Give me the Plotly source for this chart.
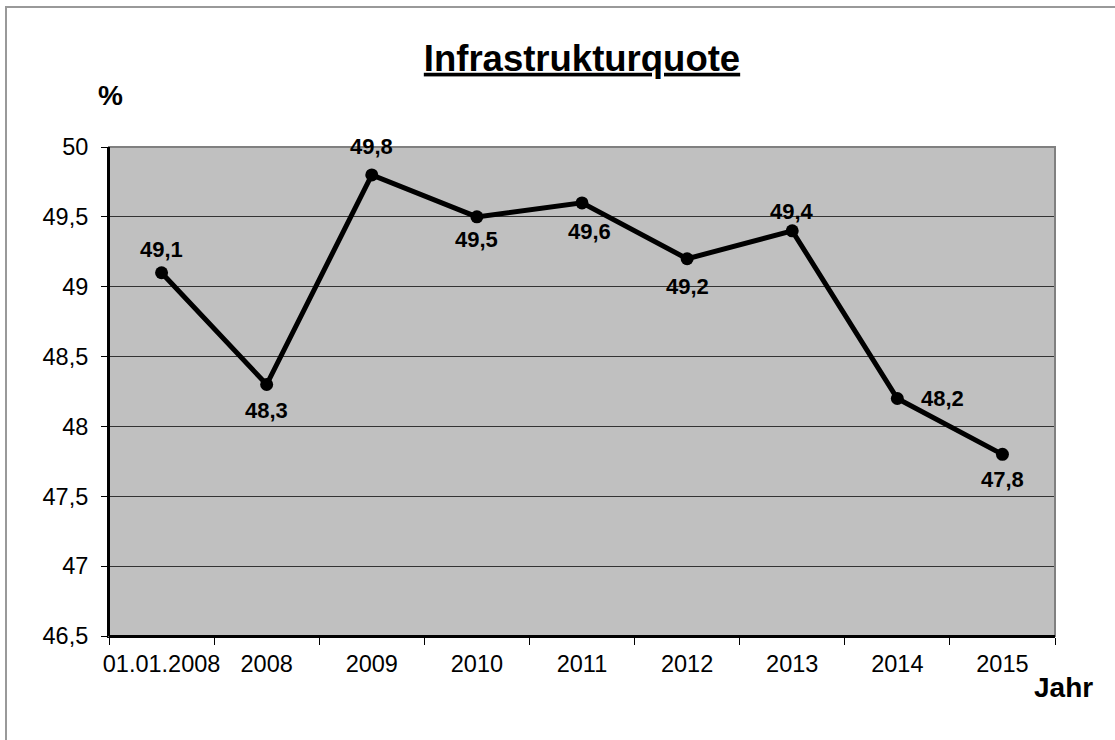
import plotly.graph_objects as go

categories = ["01.01.2008", "2008", "2009", "2010", "2011", "2012", "2013", "2014", "2015"]
values = [49.1, 48.3, 49.8, 49.5, 49.6, 49.2, 49.4, 48.2, 47.8]
y_ticks = [46.5, 47, 47.5, 48, 48.5, 49, 49.5, 50]
y_ticktext = ["46,5", "47", "47,5", "48", "48,5", "49", "49,5", "50"]

# label placement (pixel offsets from each point: xshift, yshift, xanchor)
label_offsets = [(0, 23, "center"), (0, -26, "center"), (0, 28, "center"), (0, -23, "center"),
                 (7, -29, "center"), (0, -28, "center"), (0, 19, "center"), (22, 0, "left"),
                 (0, -25, "center")]

labels = [("%.1f" % v).replace(".", ",") for v in values]

FONT = "Liberation Sans, Arial, sans-serif"

fig = go.Figure()
fig.add_trace(go.Scatter(
    x=categories, y=values, mode="lines+markers",
    line=dict(color="black", width=5),
    marker=dict(color="black", size=13),
    cliponaxis=False, showlegend=False,
))

# annotations on a category axis: position given as the category index
for i, (val, lab, (dx, dy, xa)) in enumerate(zip(values, labels, label_offsets)):
    fig.add_annotation(x=i, y=val, xref="x", yref="y", text="<b>%s</b>" % lab,
                       showarrow=False, xshift=dx, yshift=dy, xanchor=xa, yanchor="middle",
                       font=dict(family=FONT, size=22, color="black"))

fig.update_layout(
    width=1115, height=740,
    margin=dict(l=109, r=60, t=147, b=104),
    paper_bgcolor="white", plot_bgcolor="#C0C0C0",
    font=dict(family=FONT, color="black"),
    title=dict(text="<b><u>Infrastrukturquote</u></b>", x=0.5, xref="paper", xanchor="center",
               y=1 - 58 / 740, yanchor="middle", font=dict(size=36.5)),
    xaxis=dict(type="category", tickson="boundaries", ticks="outside", ticklen=7,
               tickcolor="black", showline=True, linecolor="black", linewidth=2,
               showgrid=False, tickfont=dict(size=23.5), range=[-0.5, 8.5],
               tickangle=0, ticklabelstandoff=6),
    yaxis=dict(range=[46.5, 50], tickvals=y_ticks, ticktext=y_ticktext, ticks="outside",
               ticklen=6, tickcolor="black", showline=True, linecolor="black", linewidth=2,
               showgrid=True, gridcolor="#333333", gridwidth=1, tickfont=dict(size=23.5),
               zeroline=False, ticklabelstandoff=8),
)
pw, ph = 1115 - 109 - 60, 740 - 147 - 104
fig.add_annotation(text="<b>%</b>", x=(110 - 109) / pw, y=(636 - 95) / ph, xref="paper", yref="paper",
                   showarrow=False, xanchor="center", yanchor="middle", font=dict(size=28))
fig.add_annotation(text="<b>Jahr</b>", x=(1063 - 109) / pw, y=(636 - 687) / ph, xref="paper", yref="paper",
                   showarrow=False, xanchor="center", yanchor="middle", font=dict(size=28))

fig.add_shape(type="rect", xref="paper", yref="paper", x0=0, x1=1, y0=0, y1=1,
              line=dict(color="#808080", width=2), layer="above")
fig.add_shape(type="line", xref="paper", yref="paper", x0=0, x1=0, y0=0, y1=1,
              line=dict(color="black", width=2), layer="above")
fig.add_shape(type="line", xref="paper", yref="paper", x0=0, x1=1, y0=0, y1=0,
              line=dict(color="black", width=2), layer="above")
fig.add_shape(type="rect", xref="paper", yref="paper",
              x0=(6 - 109) / pw, x1=(1140 - 109) / pw, y0=(636 - 780) / ph, y1=(636 - 7) / ph,
              line=dict(color="#999999", width=2), layer="below")

fig.write_html("out.html")
